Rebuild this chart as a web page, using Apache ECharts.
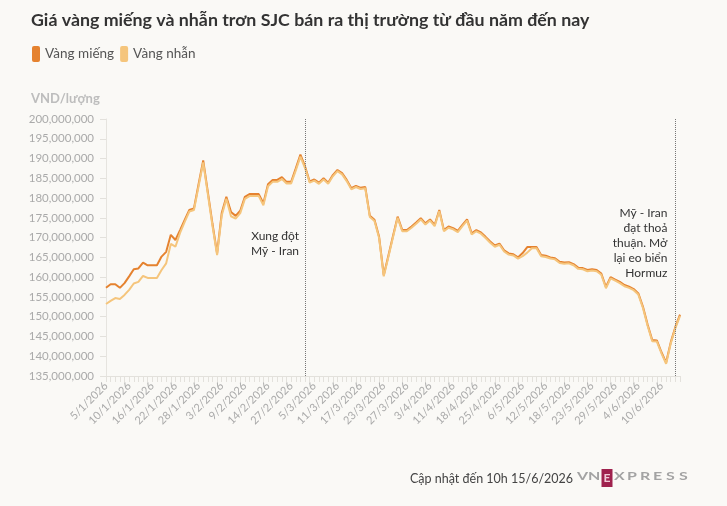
<!DOCTYPE html>
<html>
<head>
<meta charset="utf-8">
<script src="https://cdn.jsdelivr.net/npm/echarts@6/dist/echarts.min.js"></script>
<style>
  html, body { margin: 0; padding: 0; background: #faf9f6; }
  #chart { width: 727px; height: 506px; }
</style>
</head>
<body>
<div id="chart"></div>
<script>
// ngày cập nhật giá (trục x)
var dates = [
  '5/1','6/1','7/1','8/1','9/1','10/1','12/1','13/1','14/1','15/1',
  '16/1','17/1','19/1','20/1','21/1','22/1','23/1','24/1','26/1','27/1',
  '28/1','29/1','30/1','31/1','2/2','3/2','4/2','5/2','6/2','7/2',
  '9/2','10/2','11/2','12/2','13/2','14/2','23/2','24/2','25/2','26/2',
  '27/2','28/2','2/3','3/3','4/3','5/3','6/3','7/3','9/3','10/3',
  '11/3','12/3','13/3','14/3','16/3','17/3','18/3','19/3','20/3','21/3',
  '23/3','24/3','25/3','26/3','26/3','27/3','30/3','31/3','1/4','2/4',
  '3/4','4/4','6/4','7/4','9/4','11/4','13/4','14/4','15/4','16/4',
  '18/4','20/4','21/4','22/4','23/4','25/4','27/4','28/4','29/4','4/5',
  '6/5','7/5','8/5','9/5','11/5','12/5','13/5','14/5','15/5','16/5',
  '18/5','19/5','20/5','21/5','22/5','23/5','25/5','26/5','27/5','28/5',
  '29/5','30/5','1/6','2/6','3/6','4/6','5/6','6/6','8/6','9/6',
  '10/6','11/6','12/6','13/6','15/6'
];

// giá bán ra, triệu đồng/lượng
var vangMieng = [
  157.3,158.2,158.2,157.3,158.5,160.2,162.0,162.2,163.7,163.0,
  163.0,163.0,165.2,166.4,170.7,169.4,171.9,174.5,177.0,177.4,
  183.5,189.5,181.5,173.5,166.0,176.2,180.3,176.5,175.5,176.8,
  180.3,181.0,181.0,181.0,178.7,183.5,184.6,184.6,185.3,184.1,
  184.1,187.5,191.0,188.0,184.2,184.7,183.9,185.0,183.9,185.8,
  187.1,186.3,184.6,182.5,183.1,182.6,182.8,175.5,174.5,170.2,
  160.5,165.4,170.4,175.3,171.9,171.9,172.8,173.8,174.9,173.6,
  174.6,173.2,177.0,171.9,172.8,172.4,171.7,173.2,174.6,171.1,
  171.9,171.3,170.2,169.0,168.0,168.5,166.8,166.0,165.8,165.0,
  166.1,167.6,167.6,167.6,165.6,165.4,165.0,164.8,163.9,163.7,
  163.8,163.3,162.4,162.3,161.8,162.0,161.8,160.9,157.5,160.0,
  159.4,158.8,158.0,157.6,157.0,155.9,152.5,148.0,144.1,144.0,
  141.0,138.4,143.5,147.4,150.5
];

var vangNhan = [
  153.2,154.0,154.7,154.5,155.5,156.8,158.4,158.8,160.3,159.8,
  159.8,159.8,161.8,163.5,168.4,167.7,171.2,174.0,176.6,177.0,
  183.0,189.0,181.0,173.0,165.6,175.6,179.8,175.4,174.8,176.2,
  179.8,180.5,180.5,180.5,178.2,183.0,184.1,184.1,184.8,183.7,
  183.7,187.0,190.5,187.6,183.9,184.4,183.6,184.7,183.6,185.5,
  186.8,186.0,184.3,182.2,182.8,182.3,182.5,175.2,174.2,169.9,
  160.2,165.1,170.1,175.0,171.6,171.6,172.5,173.5,174.6,173.3,
  174.3,172.9,176.7,171.6,172.5,172.1,171.4,172.9,174.3,170.8,
  171.6,171.0,169.9,168.7,167.7,168.2,166.5,165.7,165.5,164.7,
  165.3,166.2,167.3,167.3,165.3,165.1,164.7,164.5,163.6,163.4,
  163.5,163.0,162.1,162.0,161.5,161.7,161.5,160.6,157.2,159.7,
  159.1,158.5,157.7,157.3,156.7,155.6,152.2,147.7,143.8,143.7,
  140.7,138.1,143.2,147.1,150.2
];

// hai sự kiện được đánh dấu
var suKien = [
  { idx: 43, y: 168.6, text: 'Xung đột\nMỹ - Iran', dist: 6 },
  { idx: 123, y: 168.5, text: 'Mỹ - Iran\nđạt thoả\nthuận. Mở\nlại eo biển\nHormuz', dist: 8 }
];

var font = 'Lato, "Noto Sans", sans-serif';
var mauMieng = '#e5822f';
var mauNhan = '#f5c57c';

var myChart = echarts.init(document.getElementById('chart'));

// chữ logo VnExpress
var logo = [
  { type: 'text', x: 0, y: 2, scaleX: 1.45, style: { text: 'VN', font: 'bold 11px ' + font, fill: '#a3a3a3' } },
  { type: 'rect', shape: { x: 24.5, y: 0, width: 11, height: 18 }, style: { fill: '#9f224e' } },
  { type: 'text', x: 26.5, y: 3.5, scaleX: 1.1, style: { text: 'E', font: 'bold 11px ' + font, fill: '#f0cbd8' } }
];
'XPRESS'.split('').forEach(function (ch, i) {
  logo.push({ type: 'text', x: 37 + i * 13, y: 2, scaleX: 1.45, style: { text: ch, font: 'bold 11px ' + font, fill: '#a3a3a3' } });
});

var option = {
  backgroundColor: '#faf9f6',
  title: [{
    text: 'Giá vàng miếng và nhẫn trơn SJC bán ra thị trường từ đầu năm đến nay',
    left: 26, top: 6,
    textStyle: { fontFamily: font, fontSize: 17.8, fontWeight: 'bold', color: '#333' }
  }, {
    text: 'VND/lượng',
    left: 26, top: 87,
    textStyle: { fontFamily: font, fontSize: 13, fontWeight: 'bold', color: '#bdbdbd' }
  }, {
    text: 'Cập nhật đến 10h 15/6/2026',
    left: 405, top: 467,
    textStyle: { fontFamily: font, fontSize: 12.5, fontWeight: 'normal', color: '#444' }
  }],
  legend: {
    left: 27, top: 41,
    icon: 'roundRect',
    itemWidth: 8, itemHeight: 16, itemGap: 6,
    textStyle: { fontFamily: font, fontSize: 13.5, color: '#555' },
    data: [
      { name: 'Vàng miếng', itemStyle: { color: mauMieng } },
      { name: 'Vàng nhẫn', itemStyle: { color: mauNhan } }
    ]
  },
  grid: { left: 106, right: 47, top: 119, bottom: 130, outerBoundsMode: 'none' },
  xAxis: {
    type: 'category',
    data: dates,
    boundaryGap: false,
    axisLine: { lineStyle: { color: '#e3e1dc' } },
    axisTick: { show: true, interval: 0, length: 6, lineStyle: { color: '#e3e1dc' } },
    axisLabel: {
      interval: 4, rotate: 45, margin: 8,
      fontFamily: font, fontSize: 11, color: '#aaa',
      formatter: function (v) { return v + '/2026'; }
    },
    splitLine: { show: false }
  },
  yAxis: {
    type: 'value',
    min: 135, max: 200, interval: 5,
    axisLine: { show: true, lineStyle: { color: '#e6e4df' } },
    axisTick: { show: true, length: 6, lineStyle: { color: '#e3e1dc' } },
    axisLabel: {
      margin: 12, fontFamily: font, fontSize: 11.5, color: '#aaa',
      formatter: function (v) { return (v * 1000000).toLocaleString('en-US'); }
    },
    splitLine: { show: false }
  },
  series: [{
    name: 'Vàng miếng',
    type: 'line',
    data: vangMieng,
    symbol: 'none',
    lineStyle: { color: mauMieng, width: 2 },
    itemStyle: { color: mauMieng },
    z: 2,
    markLine: {
      silent: true,
      symbol: 'none',
      label: { show: false },
      lineStyle: { type: 'dotted', color: '#777', width: 1 },
      data: suKien.map(function (s) { return { xAxis: s.idx }; })
    },
    markPoint: {
      silent: true,
      symbol: 'circle',
      symbolSize: 0,
      data: suKien.map(function (s) {
        return {
          coord: [s.idx, s.y],
          label: {
            show: true, position: 'left', distance: s.dist,
            formatter: s.text, align: 'right',
            fontFamily: font, fontSize: 12, lineHeight: 15, color: '#333'
          }
        };
      })
    }
  }, {
    name: 'Vàng nhẫn',
    type: 'line',
    data: vangNhan,
    symbol: 'none',
    lineStyle: { color: mauNhan, width: 2 },
    itemStyle: { color: mauNhan },
    z: 3
  }],
  graphic: [{
    type: 'group',
    left: 577, top: 469,
    children: logo
  }]
};

myChart.setOption(option);
</script>
</body>
</html>
